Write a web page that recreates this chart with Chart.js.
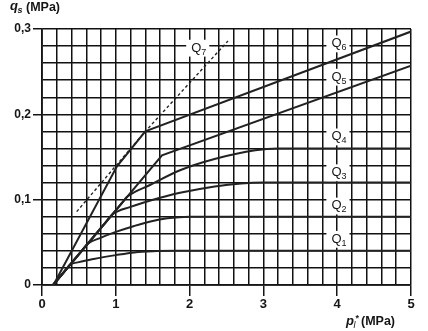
<!DOCTYPE html>
<html><head><meta charset="utf-8">
<script src="https://cdn.jsdelivr.net/npm/chart.js@4.4.0/dist/chart.umd.min.js"></script>
<style>html,body{margin:0;padding:0;background:#fff;}#wrap{position:relative;width:428px;height:331px;}</style>
</head><body><div id="wrap"><canvas id="c" width="428" height="331"></canvas></div>
<script>
// ---------- values ----------
const Q1_X = [0.15, 0.32, 0.38, 0.5, 0.7, 1.0, 1.25, 1.5, 1.8, 5.0];
const Q1_Y = [0, 0.0175, 0.0237, 0.0268, 0.0305, 0.035, 0.0382, 0.0396, 0.040, 0.040];
const Q2_X = [0.15, 0.55, 0.62, 0.8, 1.0, 1.25, 1.47, 1.7, 2.0, 5.0];
const Q2_Y = [0, 0.0412, 0.0484, 0.0555, 0.0622, 0.0692, 0.0745, 0.0782, 0.080, 0.080];
const Q3_X = [0.15, 0.88, 0.95, 1.2, 1.47, 1.87, 2.34, 2.7, 3.0, 5.0];
const Q3_Y = [0, 0.0752, 0.0824, 0.0915, 0.0990, 0.1080, 0.1155, 0.1190, 0.120, 0.120];
const Q4_X = [0.15, 1.08, 1.15, 1.47, 1.87, 2.35, 2.89, 3.2, 5.0];
const Q4_Y = [0, 0.0958, 0.103, 0.1175, 0.1345, 0.148, 0.158, 0.160, 0.160];
const Q5_X = [0.15, 1.626, 5.0];
const Q5_Y = [0, 0.152, 0.257];
const Q6_X = [0.155, 1.016, 1.40, 5.0];
const Q6_Y = [0, 0.139, 0.180, 0.297];
const Q7_X = [0.47, 1.40, 2.52];
const Q7_Y = [0.086, 0.180, 0.286];

const CURVE_NAMES = ['Q1','Q2','Q3','Q4','Q5','Q6','Q7'];
const LABEL_SUBS  = ['1','2','3','4','5','6','7'];

const X_MAJOR  = [0, 1, 2, 3, 4, 5];
const X_LABELS = ['0', '1', '2', '3', '4', '5'];
const Y_MAJOR  = [0, 0.1, 0.2, 0.3];
const Y_LABELS = ['0', '0,1', '0,2', '0,3'];
const X_STEP = 0.2, Y_STEP = 0.02;

// ---------- layout / style ----------
const LABEL_POS = [[3.99,0.055],[3.99,0.094],[3.99,0.133],[3.99,0.175],[3.99,0.245],[3.99,0.284],[2.09,0.279]];
const FONT = '"Liberation Sans", Arial, Helvetica, sans-serif';
const INK = '#151515';

function pts(xs, ys){ return xs.map((x,i)=>({x:x, y:ys[i]})); }
function grid(max, step){ const a=[]; const n=Math.round(max/step); for(let i=0;i<=n;i++) a.push(+(i*step).toFixed(4)); return a; }
function majorIndex(list, v){ return list.findIndex(m => Math.abs(m - v) < 1e-6); }

const X_GRID = grid(5, X_STEP), Y_GRID = grid(0.3, Y_STEP);

const series = [[Q1_X,Q1_Y],[Q2_X,Q2_Y],[Q3_X,Q3_Y],[Q4_X,Q4_Y],[Q5_X,Q5_Y],[Q6_X,Q6_Y],[Q7_X,Q7_Y]];
const datasets = series.map((s,i)=>({
  label: CURVE_NAMES[i],
  data: pts(s[0], s[1]),
  borderColor: '#222',
  borderWidth: i===6 ? 1.4 : 2,
  borderDash: i===6 ? [3,2.5] : [],
  pointRadius: 0,
  fill: false,
  cubicInterpolationMode: i<4 ? 'monotone' : 'default',
  tension: 0
}));

const textPlugin = {
  id: 'texts',
  afterDatasetsDraw(chart){
    const c = chart.ctx, xs = chart.scales.x, ys = chart.scales.y;
    c.save();
    c.textBaseline = 'alphabetic';
    const qSize = 13, capH = 0.716*qSize;
    LABEL_POS.forEach((p,i)=>{
      const cx = xs.getPixelForValue(p[0]), cy = ys.getPixelForValue(p[1]);
      c.font = qSize + 'px ' + FONT; const wQ = c.measureText('Q').width;
      c.font = '9px ' + FONT; const wS = c.measureText(LABEL_SUBS[i]).width;
      const left = cx - wQ/2, base = cy + capH/2;
      c.fillStyle = '#fff';
      c.fillRect(left-5, base-capH-2.5, wQ+wS+8, capH+2.5+5);
      c.fillStyle = INK;
      c.font = qSize + 'px ' + FONT; c.fillText('Q', left, base);
      c.font = '9px ' + FONT; c.fillText(LABEL_SUBS[i], left+wQ, base+3);
    });
    // axis titles
    c.fillStyle = INK;
    c.font = 'italic bold 13px ' + FONT; c.fillText('q', 10, 9.5);
    c.font = 'italic bold 9px ' + FONT; c.fillText('s', 17.5, 12.5);
    c.font = 'bold 12.5px ' + FONT; c.fillText('(MPa)', 26, 10.5);
    c.font = 'italic bold 13px ' + FONT; c.fillText('p', 346, 324.5);
    c.font = 'italic 9px ' + FONT; c.fillText('l', 353.5, 327.5);
    c.font = 'bold 9px ' + FONT; c.fillText('*', 355.5, 321);
    c.font = 'bold 12.5px ' + FONT; c.fillText('(MPa)', 361, 325);
    c.restore();
  }
};

new Chart(document.getElementById('c'), {
  type: 'line',
  data: { datasets },
  options: {
    responsive: false, animation: false, devicePixelRatio: 1,
    layout: { padding: { top: 29, right: 17, left: 0, bottom: 0 } },
    plugins: { legend: { display: false }, tooltip: { enabled: false } },
    scales: {
      x: {
        type: 'linear', min: 0, max: 5,
        afterBuildTicks: s => { s.ticks = X_GRID.map(v=>({value:v})); },
        afterFit: s => { s.height = 46; },
        ticks: {
          autoSkip: false, maxRotation: 0, padding: 1, color: INK,
          font: { family: FONT, size: 13, weight: 'bold' },
          callback: v => { const k = majorIndex(X_MAJOR, v); return k<0 ? '' : X_LABELS[k]; }
        },
        grid: {
          color: '#111', lineWidth: 1.5, tickLength: 11, tickWidth: 1.5,
          tickColor: ctx => (ctx.tick && majorIndex(X_MAJOR, ctx.tick.value) >= 0) ? INK : 'rgba(0,0,0,0)'
        },
        border: { display: true, color: INK, width: 1.8 }
      },
      y: {
        type: 'linear', min: 0, max: 0.3,
        afterBuildTicks: s => { s.ticks = Y_GRID.map(v=>({value:v})); },
        afterFit: s => { s.width = 42; },
        ticks: {
          autoSkip: false, padding: 2, color: INK,
          font: { family: FONT, size: 12, weight: 'bold' },
          callback: v => { const k = majorIndex(Y_MAJOR, v); return k<0 ? '' : Y_LABELS[k]; }
        },
        grid: {
          color: '#111', lineWidth: 1.5, tickLength: 9, tickWidth: 1.5,
          tickColor: ctx => (ctx.tick && majorIndex(Y_MAJOR, ctx.tick.value) >= 0) ? INK : 'rgba(0,0,0,0)'
        },
        border: { display: true, color: INK, width: 1.8 }
      }
    }
  },
  plugins: [textPlugin]
});
</script></body></html>
